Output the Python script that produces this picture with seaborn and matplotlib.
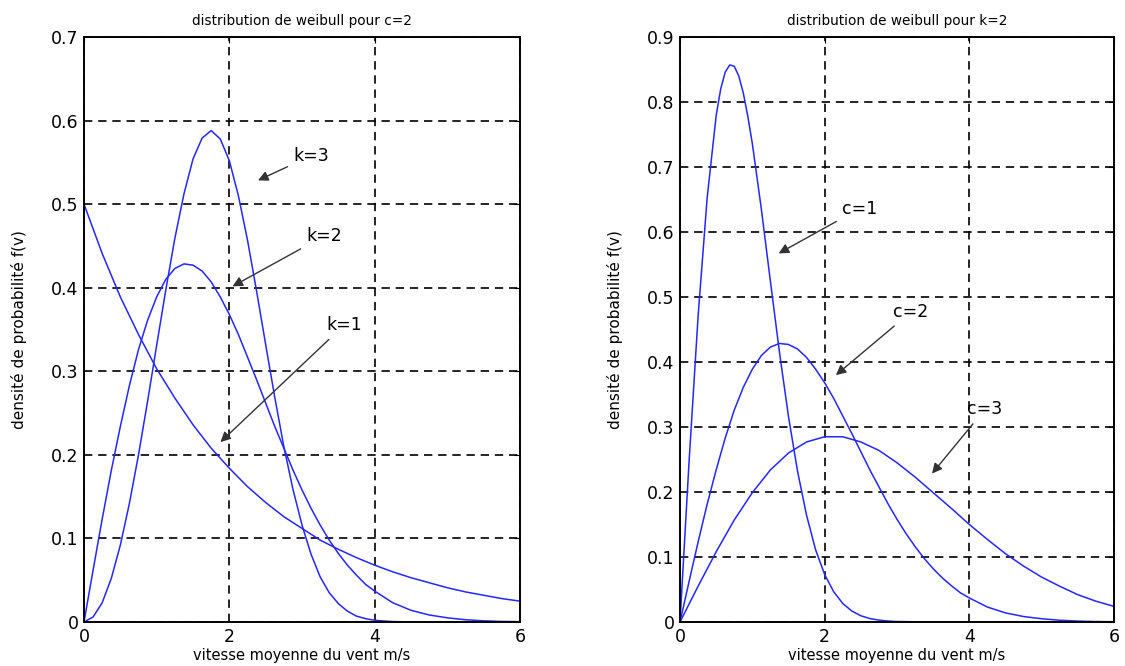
import matplotlib
matplotlib.use("Agg")
import matplotlib.pyplot as plt
import seaborn as sns
from matplotlib.ticker import FuncFormatter

# wind speed samples (m/s)
v_step = [0, 0.25, 0.5, 0.75, 1, 1.25, 1.5, 1.75, 2, 2.25, 2.5, 2.75, 3,
          3.25, 3.5, 3.75, 4, 4.25, 4.5, 4.75, 5, 5.25, 5.5, 5.75, 6]
v_fine = [0, 0.125, 0.25, 0.375, 0.5, 0.625, 0.75, 0.875, 1, 1.125, 1.25,
          1.375, 1.5, 1.625, 1.75, 1.875, 2, 2.125, 2.25, 2.375, 2.5, 2.625,
          2.75, 2.875, 3, 3.125, 3.25, 3.375, 3.5, 3.625, 3.75, 3.875, 4,
          4.25, 4.5, 4.75, 5, 5.25, 5.5, 5.75, 6]

# left panel: c=2, k=1,2,3
f_k1 = [0.500, 0.441, 0.389, 0.344, 0.303, 0.268, 0.236, 0.208, 0.184, 0.162,
        0.143, 0.126, 0.112, 0.098, 0.087, 0.077, 0.068, 0.060, 0.053, 0.047,
        0.041, 0.036, 0.032, 0.028, 0.025]
f_k2 = [0.0, 0.062, 0.123, 0.181, 0.234, 0.283, 0.326, 0.361, 0.389, 0.410,
        0.423, 0.4285, 0.427, 0.420, 0.407, 0.389, 0.368, 0.344, 0.317, 0.290,
        0.262, 0.234, 0.208, 0.182, 0.158, 0.136, 0.116, 0.098, 0.082, 0.068,
        0.056, 0.045, 0.037, 0.023, 0.014, 0.0084, 0.005, 0.0027, 0.0014,
        0.0007, 0.0004]
f_k3 = [0.0, 0.006, 0.023, 0.052, 0.092, 0.142, 0.200, 0.264, 0.331, 0.397,
        0.459, 0.512, 0.554, 0.579, 0.588, 0.578, 0.552, 0.510, 0.457, 0.396,
        0.332, 0.269, 0.210, 0.159, 0.116, 0.081, 0.054, 0.035, 0.022, 0.013,
        0.007, 0.004, 0.002, 0.0005, 0.0001, 0.0, 0.0, 0.0, 0.0, 0.0, 0.0]

# right panel: k=2, c=1,2,3
v_c1 = [0, 0.125, 0.25, 0.375, 0.5, 0.5625, 0.625, 0.6875, 0.75, 0.8125,
        0.875, 0.9375, 1, 1.125, 1.25, 1.375, 1.5, 1.625, 1.75, 1.875, 2,
        2.125, 2.25, 2.375, 2.5, 2.625, 2.75, 2.875, 3, 3.5, 4, 5, 6]
f_c1 = [0.0, 0.246, 0.470, 0.652, 0.779, 0.820, 0.846, 0.857, 0.855, 0.840,
        0.814, 0.778, 0.736, 0.635, 0.524, 0.415, 0.316, 0.232, 0.164, 0.111,
        0.073, 0.0465, 0.0285, 0.0169, 0.0096, 0.0053, 0.0029, 0.0015, 0.0007,
        0.0, 0.0, 0.0, 0.0]
f_c2 = f_k2
f_c3 = [0.0, 0.055, 0.108, 0.157, 0.199, 0.234, 0.260, 0.277, 0.285, 0.285,
        0.277, 0.264, 0.245, 0.223, 0.199, 0.175, 0.150, 0.127, 0.105, 0.086,
        0.069, 0.055, 0.042, 0.032, 0.024]

left_labels = ["k=1", "k=2", "k=3"]
right_labels = ["c=1", "c=2", "c=3"]

sns.set_style("white")
plt.rcParams["font.family"] = ["DejaVu Sans"]
plt.rcParams["text.color"] = "black"
plt.rcParams["axes.labelcolor"] = "black"

fig = plt.figure(figsize=(11.25, 6.66), dpi=100)
ax1 = fig.add_axes([84 / 1125, 44 / 666, 436 / 1125, 585 / 666])
ax2 = fig.add_axes([680 / 1125, 44 / 666, 434 / 1125, 585 / 666])

blue = (0.15, 0.15, 1.0)
sns.lineplot(x=v_step, y=f_k1, ax=ax1, color=blue, lw=1.1, sort=False)
sns.lineplot(x=v_fine, y=f_k2, ax=ax1, color=blue, lw=1.1, sort=False)
sns.lineplot(x=v_fine, y=f_k3, ax=ax1, color=blue, lw=1.1, sort=False)
sns.lineplot(x=v_c1, y=f_c1, ax=ax2, color=blue, lw=1.1, sort=False)
sns.lineplot(x=v_fine, y=f_c2, ax=ax2, color=blue, lw=1.1, sort=False)
sns.lineplot(x=v_step, y=f_c3, ax=ax2, color=blue, lw=1.1, sort=False)


def setup(ax, ymax, title):
    ax.set_xlim(0, 6)
    ax.set_ylim(0, ymax)
    ax.set_xticks([0, 2, 4, 6])
    ax.set_yticks([i / 10 for i in range(int(round(ymax * 10)) + 1)])
    ax.yaxis.set_major_formatter(FuncFormatter(lambda v, p: "%g" % round(v, 2)))
    ax.grid(True, color="black", linestyle=(0, (5, 3.5)), lw=1.2)
    ax.tick_params(direction="in", length=4, top=True, right=True,
                   labelsize=12.5, pad=4, colors="black")
    for s in ax.spines.values():
        s.set_color("black")
        s.set_linewidth(1.4)
    ax.set_title(title, fontsize=9.8, pad=9)
    ax.set_xlabel("vitesse moyenne du vent m/s", fontsize=10.5, labelpad=2)
    ax.set_ylabel("densité de probabilité f(v)", fontsize=11, labelpad=17)


setup(ax1, 0.7, "distribution de weibull pour c=2")
setup(ax2, 0.9, "distribution de weibull pour k=2")

arrow = dict(arrowstyle="-|>", color="#333333", lw=1.0, mutation_scale=15)
# (head x, head y, text x, text y)
left_ann = [(1.85, 0.213, 3.33, 0.355), (2.01, 0.40, 3.06, 0.462),
            (2.36, 0.527, 2.88, 0.558)]
right_ann = [(1.33, 0.565, 2.24, 0.636), (2.125, 0.377, 2.95, 0.477),
             (3.46, 0.225, 3.97, 0.327)]
for ax, labels, anns in ((ax1, left_labels, left_ann), (ax2, right_labels, right_ann)):
    for lab, (hx, hy, tx, ty) in zip(labels, anns):
        ax.annotate(lab, xy=(hx, hy), xytext=(tx, ty), fontsize=12.5,
                    ha="left", va="center", arrowprops=arrow)

fig.savefig("out.png", dpi=100)
